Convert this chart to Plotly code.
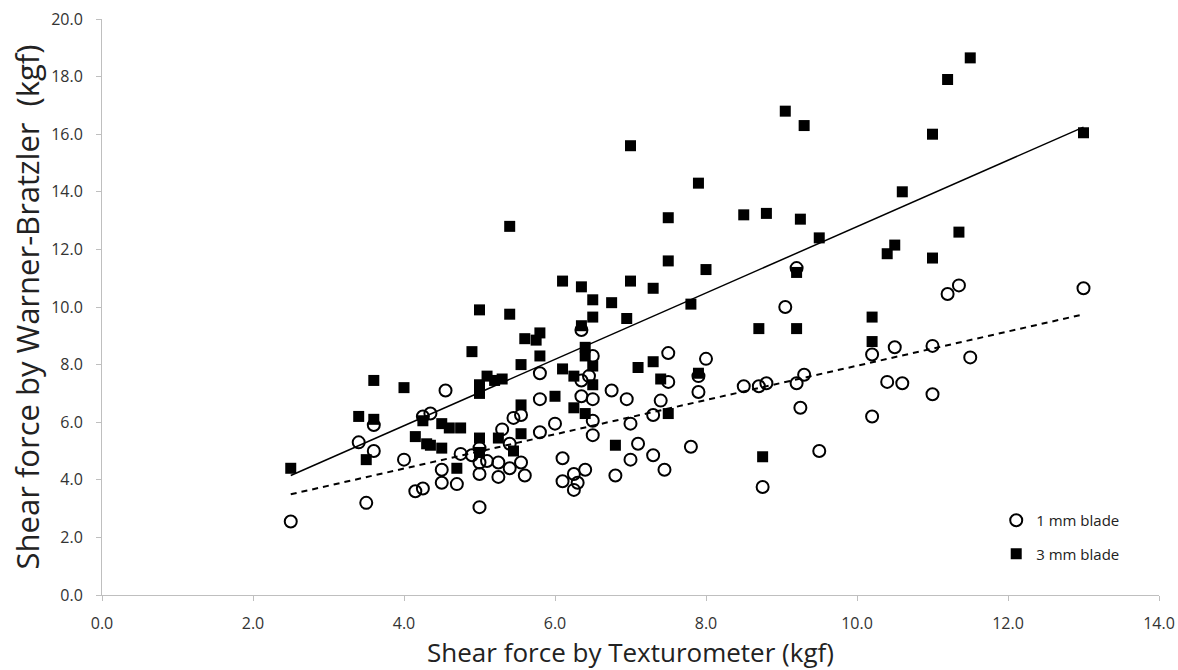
import plotly.graph_objects as go

# 1 mm blade (open circles)
x_1mm = [2.5, 3.4, 3.5, 3.6, 3.6, 4.0, 4.15, 4.25, 4.25, 4.35, 4.5, 4.5, 4.55, 4.7, 4.75, 4.9,
         5.0, 5.0, 5.0, 5.0, 5.1, 5.25, 5.25, 5.3, 5.4, 5.4, 5.45, 5.55, 5.55, 5.6, 5.8, 5.8, 5.8,
         6.0, 6.1, 6.1, 6.25, 6.25, 6.3, 6.35, 6.35, 6.35, 6.4, 6.45, 6.5, 6.5, 6.5, 6.5, 6.75,
         6.8, 6.95, 7.0, 7.0, 7.1, 7.3, 7.3, 7.4, 7.45, 7.5, 7.5, 7.8, 7.9, 7.9, 8.0, 8.5, 8.7,
         8.75, 8.8, 9.05, 9.2, 9.2, 9.25, 9.3, 9.5, 10.2, 10.2, 10.4, 10.5, 10.6, 11.0, 11.0,
         11.2, 11.35, 11.5, 13.0]
y_1mm = [2.55, 5.3, 3.2, 5.9, 5.0, 4.7, 3.6, 3.7, 6.2, 6.3, 4.35, 3.9, 7.1, 3.85, 4.9, 4.85,
         5.1, 4.6, 4.2, 3.05, 4.65, 4.6, 4.1, 5.75, 5.25, 4.4, 6.15, 6.25, 4.6, 4.15, 7.7, 6.8, 5.65,
         5.95, 4.75, 3.95, 4.2, 3.65, 3.9, 9.2, 7.45, 6.9, 4.35, 7.6, 8.3, 6.8, 6.05, 5.55, 7.1,
         4.15, 6.8, 5.95, 4.7, 5.25, 6.25, 4.85, 6.75, 4.35, 8.4, 7.4, 5.15, 7.6, 7.05, 8.2, 7.25, 7.25,
         3.75, 7.35, 10.0, 11.35, 7.35, 6.5, 7.65, 5.0, 8.35, 6.2, 7.4, 8.6, 7.35, 8.65, 6.97,
         10.45, 10.75, 8.25, 10.65]

# 3 mm blade (filled squares)
x_3mm = [2.5, 3.4, 3.5, 3.6, 3.6, 4.0, 4.15, 4.25, 4.3, 4.35, 4.5, 4.5, 4.6, 4.7, 4.75, 4.9,
         5.0, 5.0, 5.0, 5.0, 5.0, 5.1, 5.2, 5.3, 5.25, 5.4, 5.4, 5.45, 5.55, 5.55, 5.55, 5.6,
         5.75, 5.8, 5.8, 6.0, 6.1, 6.1, 6.25, 6.25, 6.35, 6.35, 6.4, 6.4, 6.4, 6.5, 6.5, 6.5,
         6.5, 6.75, 6.8, 6.95, 7.0, 7.0, 7.1, 7.3, 7.3, 7.4, 7.5, 7.5, 7.5, 7.8, 7.9, 7.9, 8.0,
         8.5, 8.7, 8.75, 8.8, 9.05, 9.2, 9.2, 9.25, 9.3, 9.5, 10.2, 10.2, 10.4, 10.5, 10.6,
         11.0, 11.0, 11.2, 11.35, 11.5, 13.0]
y_3mm = [4.4, 6.2, 4.7, 7.45, 6.1, 7.2, 5.5, 6.05, 5.25, 5.2, 5.95, 5.1, 5.8, 4.4, 5.8, 8.45,
         9.9, 7.3, 7.0, 5.45, 4.95, 7.6, 7.45, 7.5, 5.45, 12.8, 9.75, 5.0, 8.0, 6.6, 5.6, 8.9,
         8.85, 9.1, 8.3, 6.9, 10.9, 7.85, 7.6, 6.5, 10.7, 9.35, 8.6, 8.3, 6.3, 10.25, 9.65, 7.95,
         7.3, 10.15, 5.2, 9.6, 15.6, 10.9, 7.9, 10.65, 8.1, 7.5, 13.1, 11.6, 6.3, 10.1, 14.3, 7.7, 11.3,
         13.2, 9.25, 4.8, 13.25, 16.8, 11.2, 9.25, 13.05, 16.3, 12.4, 9.65, 8.8, 11.85, 12.15, 14.0,
         16.0, 11.7, 17.9, 12.6, 18.65, 16.05]

# Linear trend lines: [slope, intercept]
trend_1mm = [0.595, 2.01]
trend_3mm = [1.152, 1.27]

x_ticks = [0, 2, 4, 6, 8, 10, 12, 14]
y_ticks = [0, 2, 4, 6, 8, 10, 12, 14, 16, 18, 20]

FONT = "Open Sans"

fig = go.Figure()

def trend_xy(xs, coef):
    xr = [min(xs), max(xs)]
    return xr, [coef[0] * v + coef[1] for v in xr]

tx, ty = trend_xy(x_3mm, trend_3mm)
fig.add_trace(go.Scatter(x=tx, y=ty, mode="lines", line=dict(color="black", width=1.5),
                         showlegend=False, hoverinfo="skip"))
tx, ty = trend_xy(x_1mm, trend_1mm)
fig.add_trace(go.Scatter(x=tx, y=ty, mode="lines", line=dict(color="black", width=2, dash="6px,5px"),
                         showlegend=False, hoverinfo="skip"))

fig.add_trace(go.Scatter(x=x_1mm, y=y_1mm, mode="markers", name="1 mm blade", legendgroup="a",
                         marker=dict(symbol="circle-open", size=12, color="black", line=dict(width=2))))
fig.add_trace(go.Scatter(x=x_3mm, y=y_3mm, mode="markers", name="3 mm blade", legendgroup="b",
                         marker=dict(symbol="square", size=11, color="black")))

axis_common = dict(showgrid=False, zeroline=False, showline=True, linecolor="#bfbfbf", linewidth=1,
                   ticks="outside", ticklen=5, tickcolor="#bfbfbf", tickformat=".1f", automargin=False,
                   tickfont=dict(family=FONT, size=16, color="#333333"))

fig.update_xaxes(range=[0, 14], tickvals=x_ticks, ticklabelstandoff=9,
                 title=dict(text="Shear force by Texturometer (kgf)", font=dict(family=FONT, size=26, color="#222"),
                            standoff=7),
                 **axis_common)
fig.update_yaxes(range=[0, 20], tickvals=y_ticks, ticklabelstandoff=10,
                 title=dict(text="Shear force by Warner-Bratzler\u00a0\u00a0(kgf)",
                            font=dict(family=FONT, size=31, color="#222"), standoff=2),
                 **axis_common)

fig.update_layout(
    width=1178, height=670,
    margin=dict(l=102, r=19, t=19, b=75),
    paper_bgcolor="white", plot_bgcolor="white",
    font=dict(family=FONT, color="#222"),
    legend=dict(x=0.846, y=0.158, xanchor="left", yanchor="top", bgcolor="rgba(0,0,0,0)",
                font=dict(family=FONT, size=15, color="#222"), tracegroupgap=11,
                traceorder="grouped", itemwidth=30),
)

fig.write_html("out.html", config={"displayModeBar": False},
               post_script="document.body.style.margin='0';")
